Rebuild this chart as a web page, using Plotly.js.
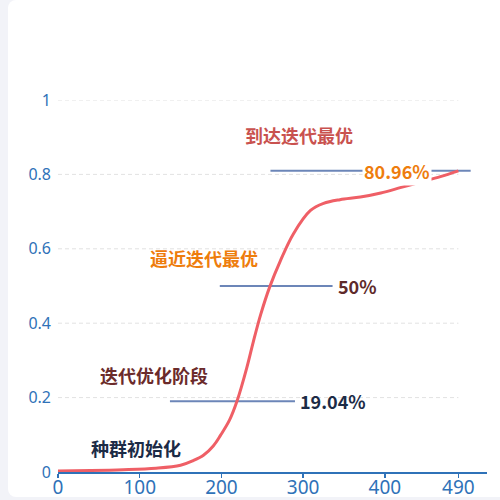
<!DOCTYPE html>
<html>
<head>
<meta charset="utf-8">
<script src="https://cdn.plot.ly/plotly-3.0.1.min.js"></script>
<style>
  html, body { margin: 0; padding: 0; background: #f2f3f8; }
  #card { position: absolute; left: 8px; top: 0; width: 510px; height: 497px; background: #fff; border-radius: 8px; }
  #chart { position: absolute; left: 0; top: 0; width: 500px; height: 500px; }
</style>
</head>
<body>
<div id="card"></div>
<div id="chart"></div>
<script>
// iteration curve
const iters = [0, 40, 80, 120, 150, 165, 178, 190, 199, 210, 219, 231, 239, 248, 259, 272, 288, 309, 325, 345, 370, 395, 420, 445, 468, 490];
const fitness = [0.003, 0.004, 0.006, 0.010, 0.018, 0.030, 0.045, 0.070, 0.099, 0.140, 0.190, 0.280, 0.350, 0.423, 0.497, 0.567, 0.640, 0.703, 0.722, 0.732, 0.739, 0.750, 0.765, 0.780, 0.794, 0.8096];

const xTicks = [0, 100, 200, 300, 400, 490];
const yTicks = [0, 0.2, 0.4, 0.6, 0.8, 1];

const stageNames = ['种群初始化', '迭代优化阶段', '逼近迭代最优', '到达迭代最优'];
const stageColors = ['#1c2b46', '#6b2b2b', '#ee7d0d', '#c9524f'];
const levels = [0.1904, 0.5, 0.8096];
const levelLabels = ['19.04%', '50%', '80.96%'];
const levelColors = ['#1c2b46', '#5e2a2a', '#ee7d0d'];

const blue = '#2f72b8';
const cjk = '"Noto Sans CJK SC", "Noto Sans", sans-serif';

const shapes = [];
// dashed grid lines
yTicks.slice(1).forEach(v => shapes.push({
  type: 'line', xref: 'x', yref: 'y', x0: 0, x1: 490, y0: v, y1: v,
  line: { color: '#e2e2e2', width: 1, dash: '4px,3px' }, layer: 'below'
}));
// level lines
const spans = [[137, 290], [198, 336], [260, 505]];
levels.forEach((v, i) => shapes.push({
  type: 'line', xref: 'x', yref: 'y', x0: spans[i][0], x1: spans[i][1], y0: v, y1: v,
  line: { color: '#6c86b8', width: 2 }, layer: 'below'
}));

const annotations = [];
const stagePos = [[95, 0.0645], [117.6, 0.262], [179, 0.575], [294.5, 0.905]];
stageNames.forEach((t, i) => annotations.push({
  x: stagePos[i][0], y: stagePos[i][1], xref: 'x', yref: 'y', text: '<b>' + t + '</b>',
  showarrow: false, font: { family: cjk, size: 18, color: stageColors[i] }
}));
const levelPos = [337, 366, 415];
levels.forEach((v, i) => annotations.push({
  x: levelPos[i], y: v, xref: 'x', yref: 'y', text: '<b>' + levelLabels[i] + '</b>',
  showarrow: false, bgcolor: i === 2 ? '#ffffff' : 'rgba(0,0,0,0)',
  font: { family: cjk, size: 18, color: levelColors[i] }
}));
// axis arrow
annotations.push({
  x: 527, y: 0, xref: 'x', yref: 'y', ax: -12, ay: 0, text: '',
  showarrow: true, arrowhead: 2, arrowsize: 1, arrowwidth: 1.5, arrowcolor: blue
});

Plotly.newPlot('chart', [{
  x: iters, y: fitness, type: 'scatter', mode: 'lines',
  line: { color: '#ef5f66', width: 3, shape: 'spline', smoothing: 1 },
  hoverinfo: 'skip', cliponaxis: false
}], {
  width: 500, height: 500,
  margin: { l: 58, r: 13, t: 100, b: 28 },
  paper_bgcolor: 'rgba(0,0,0,0)', plot_bgcolor: 'rgba(0,0,0,0)',
  showlegend: false,
  xaxis: {
    range: [0, 525], tickvals: xTicks, showgrid: false, zeroline: false,
    showline: true, linecolor: blue, linewidth: 1.5,
    ticks: 'outside', ticklen: 4, tickcolor: blue, tickwidth: 1.5,
    ticklabelstandoff: -6,
    tickfont: { family: '"Noto Sans", sans-serif', size: 19, color: blue }
  },
  yaxis: {
    range: [0, 1], tickvals: yTicks, showgrid: false, zeroline: false,
    showline: false, ticks: '', ticklabelstandoff: 6,
    tickfont: { family: '"Noto Sans", sans-serif', size: 16, color: blue }
  },
  shapes: shapes,
  annotations: annotations
}, { staticPlot: true });
</script>
</body>
</html>
